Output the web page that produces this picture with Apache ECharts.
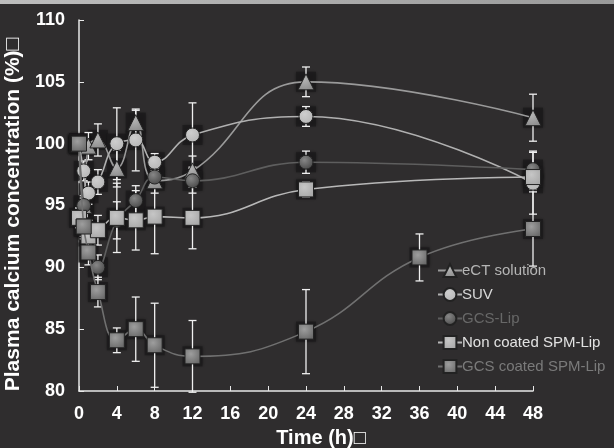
<!DOCTYPE html>
<html><head><meta charset="utf-8">
<script src="https://cdn.jsdelivr.net/npm/echarts@6/dist/echarts.min.js"></script>
<style>html,body{margin:0;padding:0;background:#2f2d2e;}#c{width:614px;height:448px;}</style>
</head><body><div id="c"></div>
<script>
// Data
const seriesNames = ['eCT solution', 'SUV', 'GCS-Lip', 'Non coated SPM-Lip', 'GCS coated SPM-Lip'];
const xTicks = [0, 4, 8, 12, 16, 20, 24, 28, 32, 36, 40, 44, 48];
const ectTime = [0, 0.5, 1, 2, 4, 6, 8, 12, 24, 48];
const ectVal  = [100, 95, 99.8, 100.3, 98, 101.7, 97, 97.8, 105, 102.1];
const ectErr  = [0, 0.6, 1.1, 1.3, 1.5, 1.0, 1.0, 1.2, 1.2, 1.9];
const suvTime = [0, 0.5, 1, 2, 4, 6, 8, 12, 24, 48];
const suvVal  = [100, 97.8, 96, 96.9, 100, 100.3, 98.5, 100.7, 102.2, 96.8];
const suvErr  = [0, 0.8, 0.9, 1.0, 2.9, 2.5, 0.7, 2.6, 0.8, 2.5];
const gcsLipTime = [0, 0.5, 1, 2, 4, 6, 8, 12, 24, 48];
const gcsLipVal  = [100, 95, 93, 90, 93.8, 95.4, 97.3, 97, 98.5, 97.9];
const gcsLipErr  = [0, 0.8, 0.8, 1.0, 1.5, 1.2, 0.8, 1.0, 0.9, 1.5];
const ncTime = [0, 0.5, 1, 2, 4, 6, 8, 12, 24, 48];
const ncVal  = [94, 93.3, 92.5, 93, 94, 93.8, 94.1, 94, 96.3, 97.3];
const ncErr  = [0.8, 0.8, 0.8, 1.2, 2.8, 2.4, 3.0, 2.5, 0.6, 1.0];
const gcTime = [0, 0.5, 1, 2, 4, 6, 8, 12, 24, 36, 48];
const gcVal  = [100, 93.3, 91.2, 88, 84.1, 85, 83.7, 82.8, 84.8, 90.8, 93.1];
const gcErr  = [0, 1.0, 1.0, 1.2, 1.0, 2.6, 3.4, 2.9, 3.4, 1.9, 3.0];

const lineColors = ['#9a9a9a', '#b0b0b0', '#5e5e5e', '#b8b8b8', '#707070'];
const markColors = ['#8c8c8c', '#b5b5b5', '#474747', '#a8a8a8', '#6a6a6a'];
const legendColors = ['#b5b5b5', '#d8d8d8', '#686868', '#e2e2e2', '#7a7a7a'];
const symbols = ['triangle', 'circle', 'circle', 'rect', 'rect'];
const times = [ectTime, suvTime, gcsLipTime, ncTime, gcTime];
const vals = [ectVal, suvVal, gcsLipVal, ncVal, gcVal];
const errs = [ectErr, suvErr, gcsLipErr, ncErr, gcErr];

const FONT = 'Liberation Sans, Arial, sans-serif';
const chart = echarts.init(document.getElementById('c'));
const series = [];
seriesNames.forEach((name, i) => {
  // dark square halo behind each marker
  series.push({
    type: 'scatter', name: name + '_halo', z: 1, silent: true,
    data: times[i].map((t, j) => [t, vals[i][j]]),
    symbol: 'rect', symbolSize: 20,
    itemStyle: { color: '#1c1a1b', shadowColor: 'rgba(0,0,0,0.6)', shadowBlur: 3 }
  });
});
seriesNames.forEach((name, i) => {
  const errData = times[i].map((t, j) => [t, vals[i][j] - errs[i][j], vals[i][j] + errs[i][j]]);
  series.push({
    type: 'custom', name: name + '_err', z: 2, silent: true,
    data: errData,
    encode: { x: 0, y: [1, 2] },
    renderItem: function (params, api) {
      const x = api.value(0), lo = api.value(1), hi = api.value(2);
      if (hi - lo < 0.01) return null;
      const a = api.coord([x, lo]), b = api.coord([x, hi]);
      const w = 4;
      const st = { stroke: '#f0f0f0', lineWidth: 1.3 };
      return { type: 'group', children: [
        { type: 'line', shape: { x1: a[0], y1: a[1], x2: b[0], y2: b[1] }, style: st },
        { type: 'line', shape: { x1: a[0] - w, y1: a[1], x2: a[0] + w, y2: a[1] }, style: st },
        { type: 'line', shape: { x1: b[0] - w, y1: b[1], x2: b[0] + w, y2: b[1] }, style: st }
      ]};
    }
  });
});
seriesNames.forEach((name, i) => {
  const sym = symbols[i];
  series.push({
    type: 'line', name: name, smooth: 0.45, z: 3 + i,
    data: times[i].map((t, j) => [t, vals[i][j]]),
    symbol: sym,
    symbolSize: sym === 'triangle' ? 16 : (sym === 'rect' ? 15 : 14),
    lineStyle: { color: lineColors[i], width: 1.6 },
    itemStyle: {
      color: new echarts.graphic.RadialGradient(0.4, 0.35, 0.7, [
        { offset: 0, color: echarts.color.lift(markColors[i], 0.35) },
        { offset: 1, color: markColors[i] }
      ]),
      borderColor: '#222', borderWidth: 1
    }
  });
});

chart.setOption({
  backgroundColor: '#2f2d2e',
  animation: false,
  graphic: [{
    type: 'rect', left: 0, top: 0, shape: { width: 614, height: 4 },
    style: { fill: new echarts.graphic.LinearGradient(0, 0, 1, 0, [
      { offset: 0, color: '#bdbdbd' }, { offset: 1, color: '#9a9a9a' }]) }
  }],
  grid: { left: 79, right: 81, top: 20, bottom: 57, containLabel: false, outerBoundsMode: 'none' },
  legend: {
    orient: 'vertical', left: 432, top: 258, itemGap: 9,
    itemWidth: 24, itemHeight: 16,
    data: seriesNames.map((n, i) => ({ name: n, textStyle: { color: legendColors[i] } })),
    textStyle: { fontFamily: FONT, fontSize: 15, padding: [0, 0, 0, -5] }
  },
  xAxis: {
    type: 'value', min: 0, max: 48, interval: 4,
    name: 'Time (h)\u25A1', nameLocation: 'middle', nameGap: 37,
    nameTextStyle: { color: '#ffffff', fontWeight: 'bold', fontSize: 20, fontFamily: FONT, padding: [0, 0, 0, 30] },
    axisLine: { lineStyle: { color: '#e8e8e8', width: 1.5 } },
    axisTick: { inside: true, length: 5, lineStyle: { color: '#e8e8e8' } },
    axisLabel: { color: '#ffffff', fontWeight: 'bold', fontSize: 18, margin: 14, fontFamily: FONT,
      formatter: v => xTicks.includes(v) ? String(v) : '' },
    splitLine: { show: false }
  },
  yAxis: {
    type: 'value', min: 80, max: 110, interval: 5,
    name: 'Plasma calcium concentration (%)\u25A1', nameLocation: 'middle', nameGap: 40,
    nameTextStyle: { color: '#ffffff', fontWeight: 'bold', fontSize: 21, fontFamily: FONT, padding: [0, 18, 0, 0] },
    axisLine: { show: true, lineStyle: { color: '#e8e8e8', width: 1.5 } },
    axisTick: { show: true, inside: true, length: 5, lineStyle: { color: '#e8e8e8' } },
    axisLabel: { color: '#ffffff', fontWeight: 'bold', fontSize: 18, margin: 14, fontFamily: FONT },
    splitLine: { show: false }
  },
  series: series
});
</script></body></html>
